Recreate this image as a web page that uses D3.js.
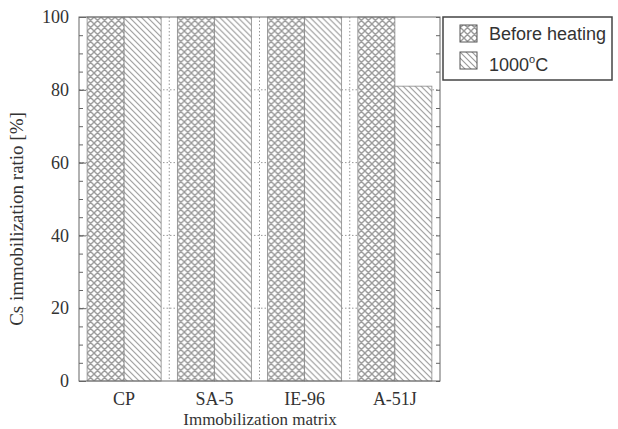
<!DOCTYPE html>
<html>
<head>
<meta charset="utf-8">
<script src="https://cdn.jsdelivr.net/npm/d3@7"></script>
<style>
  body { margin: 0; background: #fff; }
  svg { display: block; }
</style>
</head>
<body>
<div id="chart"></div>
<script>
// chart data
const matrices = ['CP', 'SA-5', 'IE-96', 'A-51J'];
const seriesNames = ['Before heating', '1000°C'];
const beforeHeating = [100, 100, 100, 100];
const after1000C = [100, 100, 100, 81];
const yTicks = [0, 20, 40, 60, 80, 100];

const width = 618, height = 429;
const margin = { top: 17, right: 178, bottom: 48, left: 79 };
const innerW = width - margin.left - margin.right;
const innerH = height - margin.top - margin.bottom;
const serif = 'Liberation Serif, Times New Roman, serif';

const svg = d3.select('#chart').append('svg')
  .attr('width', width)
  .attr('height', height);

// hatch patterns
const defs = svg.append('defs');
const cross = defs.append('pattern')
  .attr('id', 'cross')
  .attr('patternUnits', 'userSpaceOnUse')
  .attr('width', 7).attr('height', 7);
cross.append('rect').attr('width', 7).attr('height', 7).attr('fill', '#fff');
cross.append('path')
  .attr('d', 'M0,0L7,7M7,0L0,7M-3.5,3.5L3.5,10.5M3.5,-3.5L10.5,3.5M-3.5,3.5L3.5,-3.5M3.5,10.5L10.5,3.5')
  .attr('stroke', '#999').attr('stroke-width', 1.4).attr('fill', 'none');

const diag = defs.append('pattern')
  .attr('id', 'diag')
  .attr('patternUnits', 'userSpaceOnUse')
  .attr('width', 6).attr('height', 6);
diag.append('rect').attr('width', 6).attr('height', 6).attr('fill', '#fff');
diag.append('path')
  .attr('d', 'M0,0L6,6M-3,3L3,9M3,-3L9,3')
  .attr('stroke', '#999').attr('stroke-width', 1.1).attr('fill', 'none');

const fills = ['url(#cross)', 'url(#diag)'];

const g = svg.append('g').attr('transform', `translate(${margin.left},${margin.top})`);

const x = d3.scaleBand().domain(matrices).range([0, innerW])
  .paddingInner(0.18).paddingOuter(0.09);
const xSub = d3.scaleBand().domain(seriesNames).range([0, x.bandwidth()]);
const y = d3.scaleLinear().domain([0, 100]).range([innerH, 0]);

// dotted grid
g.append('g').selectAll('line.hgrid')
  .data(yTicks.slice(1, -1))
  .enter().append('line')
  .attr('x1', 0).attr('x2', innerW)
  .attr('y1', d => y(d)).attr('y2', d => y(d))
  .attr('stroke', '#999').attr('stroke-dasharray', '1.5,2');

g.append('g').selectAll('line.vgrid')
  .data(matrices.slice(1))
  .enter().append('line')
  .attr('x1', d => x(d) - x.step() * x.paddingInner() / 2)
  .attr('x2', d => x(d) - x.step() * x.paddingInner() / 2)
  .attr('y1', 0).attr('y2', innerH)
  .attr('stroke', '#999').attr('stroke-dasharray', '1.5,2');

// bars
const rows = matrices.map((m, i) => ({ m, vals: [beforeHeating[i], after1000C[i]] }));
const groups = g.selectAll('.grp').data(rows).enter().append('g')
  .attr('class', 'grp')
  .attr('transform', d => `translate(${x(d.m)},0)`);

groups.selectAll('rect')
  .data(d => d.vals.map((v, j) => ({ v, s: seriesNames[j], j })))
  .enter().append('rect')
  .attr('x', d => xSub(d.s))
  .attr('y', d => y(d.v))
  .attr('width', xSub.bandwidth())
  .attr('height', d => innerH - y(d.v))
  .attr('fill', d => fills[d.j])
  .attr('stroke', '#888').attr('stroke-width', 0.8);

// frame
g.append('rect')
  .attr('width', innerW).attr('height', innerH)
  .attr('fill', 'none').attr('stroke', '#666').attr('stroke-width', 1);

// axes with inward ticks
const yMinor = d3.range(0, 101, 5);
const yAxisL = d3.axisLeft(y).tickValues(yMinor).tickSize(-4).tickFormat('');
const yAxisR = d3.axisRight(y).tickValues(yMinor).tickSize(-4).tickFormat('');
g.append('g').call(yAxisL).call(a => a.select('.domain').remove())
  .selectAll('line').attr('stroke', '#666');
g.append('g').attr('transform', `translate(${innerW},0)`).call(yAxisR)
  .call(a => a.select('.domain').remove())
  .selectAll('line').attr('stroke', '#666');
g.append('g').call(d3.axisLeft(y).tickValues(yTicks).tickSize(-7).tickPadding(10))
  .call(a => a.select('.domain').remove())
  .call(a => a.selectAll('line').attr('stroke', '#666'))
  .call(a => a.selectAll('text')
    .attr('font-family', serif)
    .attr('font-size', 18).attr('fill', '#333'));

g.append('g').attr('transform', `translate(0,${innerH})`)
  .call(d3.axisBottom(x).tickSize(0).tickPadding(11))
  .call(a => a.select('.domain').remove())
  .call(a => a.selectAll('text')
    .attr('font-family', serif)
    .attr('font-size', 18).attr('fill', '#333'));

// axis titles
svg.append('text')
  .attr('transform', 'translate(23,219) rotate(-90)')
  .attr('text-anchor', 'middle')
  .attr('font-family', serif)
  .attr('font-size', 19).attr('fill', '#333')
  .text('Cs immobilization ratio [%]');

svg.append('text')
  .attr('x', 260).attr('y', 425)
  .attr('text-anchor', 'middle')
  .attr('font-family', serif)
  .attr('font-size', 17).attr('fill', '#333')
  .text('Immobilization matrix');

// legend
const lg = svg.append('g').attr('transform', 'translate(443,17)');
lg.append('rect').attr('width', 169).attr('height', 63)
  .attr('fill', '#fff').attr('stroke', '#444').attr('stroke-width', 1.5);
seriesNames.forEach((s, i) => {
  lg.append('rect').attr('x', 17).attr('y', 8 + i * 27)
    .attr('width', 17).attr('height', 17)
    .attr('fill', fills[i]).attr('stroke', '#555');
  const t = lg.append('text').attr('x', 46).attr('y', 23 + i * 31)
    .attr('font-family', 'Liberation Sans, Arial, sans-serif')
    .attr('font-size', 18).attr('fill', '#333');
  if (s === '1000°C') {
    t.append('tspan').text('1000');
    t.append('tspan').attr('dy', -8).attr('font-size', 11).text('o');
    t.append('tspan').attr('dy', 8).text('C');
  } else {
    t.text(s);
  }
});
</script>
</body>
</html>
